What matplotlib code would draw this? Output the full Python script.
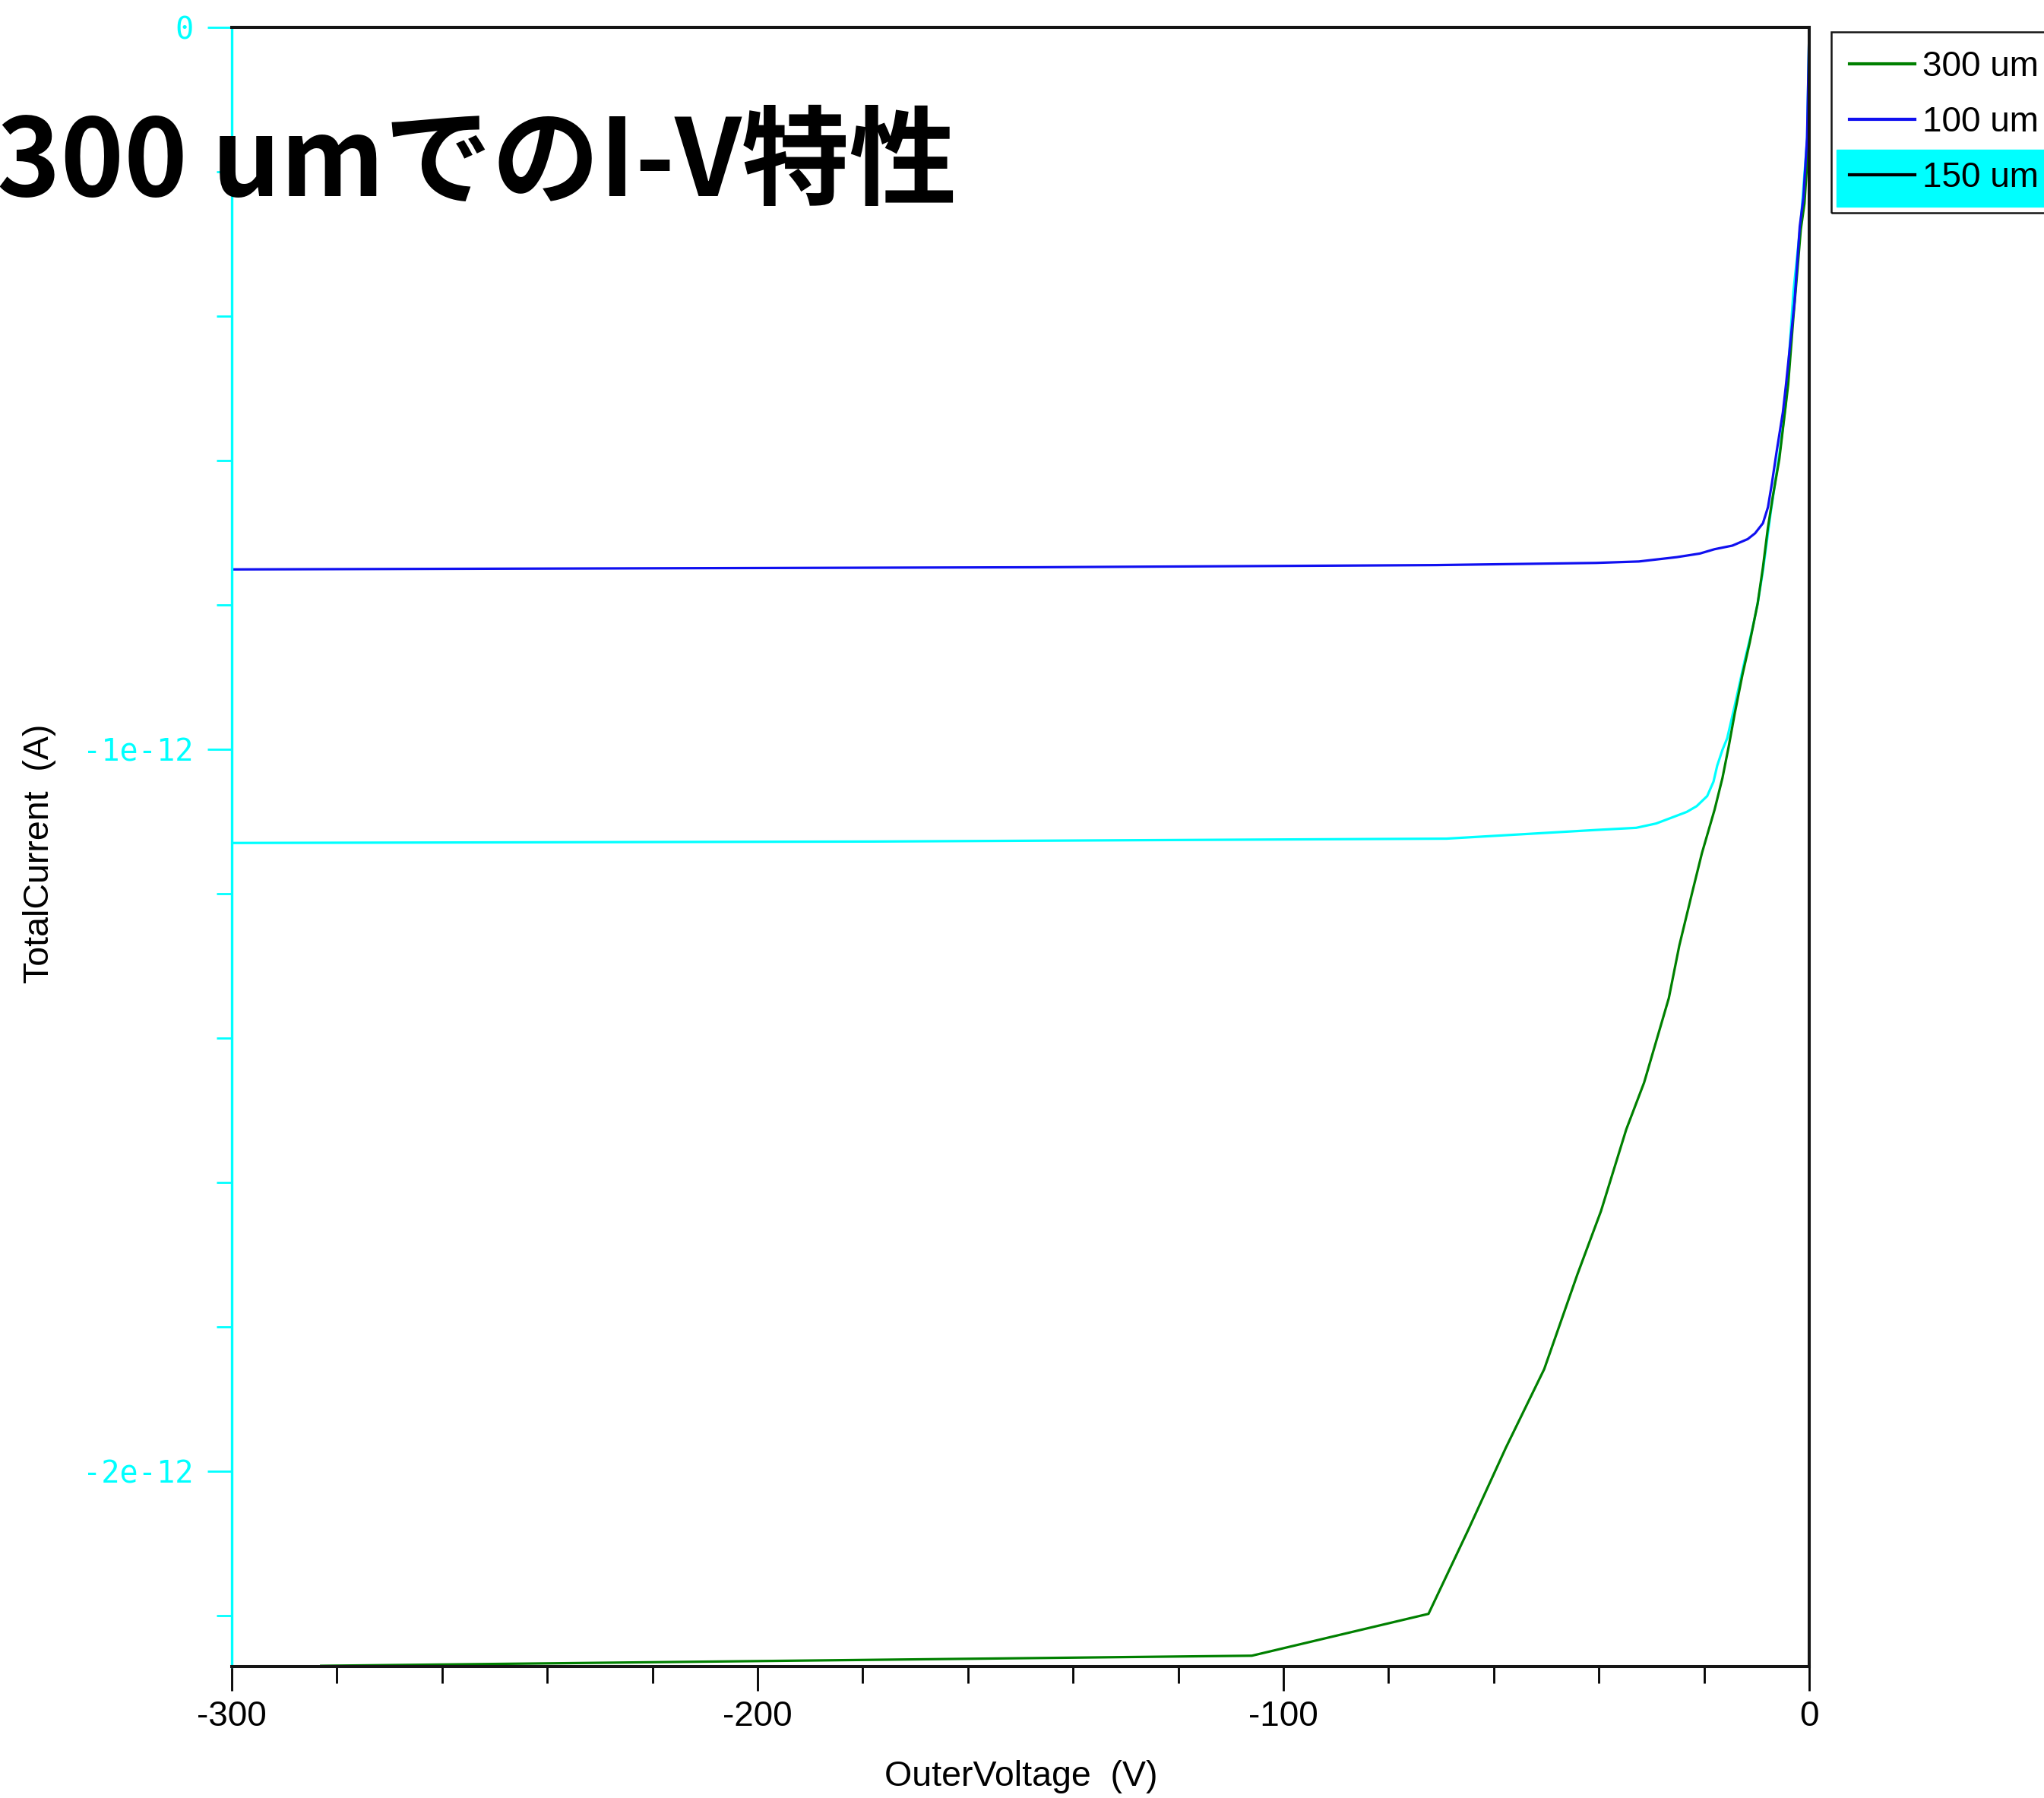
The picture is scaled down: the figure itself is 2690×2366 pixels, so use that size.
import numpy as np
import matplotlib.pyplot as plt
from matplotlib.lines import Line2D
from matplotlib.patches import Rectangle
from matplotlib.ticker import MultipleLocator

plt.rcParams['font.family'] = ['Liberation Sans', 'DejaVu Sans']
plt.rcParams['axes.unicode_minus'] = False

# 電流値は 1e-12 A 単位で読み取った値
v_300 = [-283, -106, -72.4, -64.8, -57.7, -50.4, -44.1, -39.6, -34.8, -31.4, -26.7,
         -24.7, -22.3, -20.4, -18.0, -16.5, -15.3, -14.2, -12.7, -11.3, -9.8, -8.8,
         -7.85, -6.9, -5.7, -4.8, -4.0, -3.0, -2.3, -1.6, -0.9, -0.15, 0]
i_300 = [-2.270, -2.256, -2.198, -2.081, -1.968, -1.859, -1.728, -1.640, -1.527, -1.462, -1.345,
         -1.272, -1.200, -1.144, -1.084, -1.040, -0.996, -0.952, -0.897, -0.852, -0.798, -0.748,
         -0.693, -0.649, -0.599, -0.544, -0.495, -0.401, -0.341, -0.280, -0.244, -0.160, 0.0]

v_100 = [-300, -147, -71, -40.6, -32.4, -25.2, -20.8, -18.0, -14.6, -11.7, -10.3, -8.8,
         -7.85, -7.1, -6.2, -5.0, -4.4, -2.8, -1.8, -1.1, -0.4, 0]
i_100 = [-0.751, -0.748, -0.745, -0.742, -0.740, -0.734, -0.729, -0.723, -0.718, -0.709, -0.701, -0.687,
         -0.665, -0.632, -0.588, -0.533, -0.494, -0.381, -0.276, -0.236, -0.152, 0.0]

v_150 = [-300, -178, -69, -40.6, -32.9, -29.1, -26.2, -23.3, -21.4, -19.4, -18.2, -17.5, -16.5,
         -15.6, -14.2, -12.2, -10.7, -9.8, -8.8, -7.3, -6.4, -5.4, -4.45, -3.0, -1.6, -0.4, 0]
i_150 = [-1.130, -1.128, -1.124, -1.112, -1.109, -1.103, -1.095, -1.087, -1.079, -1.065, -1.045, -1.023, -1.001,
         -0.985, -0.941, -0.875, -0.830, -0.798, -0.753, -0.671, -0.627, -0.577, -0.522, -0.366, -0.269, -0.156, 0.0]

labels = ['300 um', '100 um', '150 um']
x_ticks = [-300, -200, -100, 0]
x_tick_labels = ['-300', '-200', '-100', '0']
y_ticks = [0, -1e-12, -2e-12]
y_tick_labels = ['0', '-1e-12', '-2e-12']

W, H = 2690, 2366
fig = plt.figure(figsize=(W / 100, H / 100), dpi=100)
ax = fig.add_axes([305 / W, 1 - 2193 / H, (2381 - 305) / W, (2193 - 36) / H])

cyan = '#00ffff'
ax.plot(v_150, np.array(i_150) * 1e-12, color=cyan, lw=2.3)
ax.plot(v_300, np.array(i_300) * 1e-12, color='#008000', lw=2.3)
ax.plot(v_100, np.array(i_100) * 1e-12, color='#1010f0', lw=2.3)

ax.set_xlim(-300, 0)
ax.set_ylim(-2.271e-12, 0)

ax.set_xticks(x_ticks, labels=x_tick_labels, fontfamily='Liberation Sans')
ax.set_yticks(y_ticks, labels=y_tick_labels, fontfamily='DejaVu Sans Mono')
ax.xaxis.set_minor_locator(MultipleLocator(20))
ax.yaxis.set_minor_locator(MultipleLocator(0.2e-12))

ax.tick_params(axis='x', which='major', direction='out', length=23, width=2,
               colors='black', pad=9, labelsize=33)
ax.tick_params(axis='x', which='minor', direction='out', length=15.5, width=2, colors='black')
ax.tick_params(axis='y', which='major', direction='out', length=23, width=2,
               color=cyan, labelcolor=cyan, pad=13, labelsize=29)
ax.tick_params(axis='y', which='minor', direction='out', length=14.5, width=2, color=cyan)

for s in ['top', 'right', 'bottom']:
    ax.spines[s].set_color('#151515')
    ax.spines[s].set_linewidth(2.9)
ax.spines['left'].set_color(cyan)
ax.spines['left'].set_linewidth(2.4)

ax.set_xlabel('OuterVoltage  (V)', fontsize=33.5, va='center')
ax.xaxis.set_label_coords(0.5005, -(2338 - 2193) / 2157)
ax.set_ylabel('TotalCurrent  (A)', fontsize=33.5, va='center')
ax.yaxis.set_label_coords((52 - 305) / 2076, (2193 - 1123) / 2157)

# 凡例（選択中の行はシアンで強調）
handles = [Line2D([], [], color='#008000', lw=3),
           Line2D([], [], color='#1010f0', lw=3),
           Line2D([], [], color='black', lw=3)]
leg = fig.legend(handles, labels, loc='upper left', bbox_to_anchor=(2410 / W, 1 - 42 / H),
                 bbox_transform=fig.transFigure, borderaxespad=0, fontsize=33,
                 handlelength=1.86, handletextpad=0.22, labelspacing=0.63, borderpad=0.53,
                 fancybox=False, framealpha=1, facecolor='none', edgecolor='#151515')
leg.get_frame().set_linewidth(1.8)
fig.patches.append(Rectangle((2417 / W, 1 - 272 / H), (2720 - 2417) / W, 75 / H,
                             transform=fig.transFigure, color=cyan, zorder=0))

fig.text(-4 / W, 1 - 258 / H, '300 umでのI-V特性', fontsize=102, fontweight='bold',
         family=['Noto Sans CJK JP', 'DejaVu Sans'], va='baseline', ha='left')

fig.savefig('out.png', dpi=100, facecolor='white')
